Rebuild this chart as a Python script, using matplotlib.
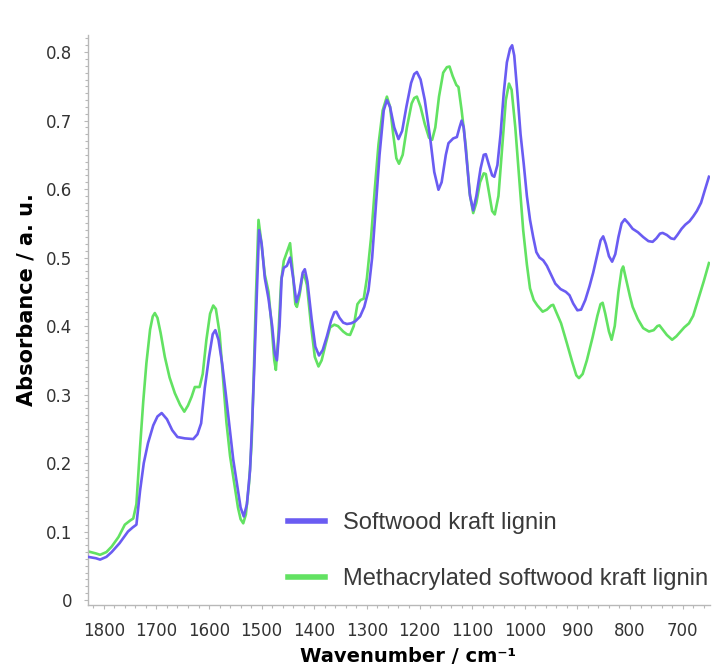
import matplotlib
matplotlib.use("Agg")
import matplotlib.pyplot as plt
from matplotlib.ticker import MultipleLocator

# softwood kraft lignin
wn_soft = [1830, 1815, 1807, 1795, 1785, 1770, 1754, 1745, 1738, 1731, 1724, 1716, 1706, 1698, 1690,
           1680, 1670, 1660, 1646, 1630, 1622, 1615, 1608, 1600, 1593, 1588, 1582, 1575, 1568, 1560,
           1554, 1546, 1540, 1534, 1528, 1522, 1518, 1514, 1510, 1505, 1500, 1494, 1487, 1480, 1475,
           1471, 1466, 1462, 1458, 1452, 1446, 1440, 1434, 1428, 1422, 1418, 1413, 1405, 1398, 1391,
           1384, 1376, 1368, 1362, 1358, 1352, 1345, 1338, 1330, 1322, 1313, 1305, 1297, 1290, 1283,
           1276, 1268, 1262, 1256, 1248, 1240, 1233, 1225, 1216, 1210, 1205, 1198, 1190, 1180, 1172,
           1164, 1158, 1150, 1145, 1136, 1129, 1124, 1120, 1116, 1110, 1104, 1098, 1092, 1084, 1078,
           1074, 1068, 1062, 1058, 1052, 1046, 1040, 1034, 1028, 1024, 1020, 1014, 1008, 1002, 996,
           990, 984, 978, 972, 965, 958, 950, 942, 932, 922, 915, 908, 900, 893, 885,
           877, 870, 862, 856, 851, 846, 840, 834, 828, 822, 816, 810, 803, 795, 785,
           775, 765, 757, 750, 743, 738, 730, 722, 716, 710, 702, 695, 687, 680, 673,
           665, 658, 650]
abs_soft = [0.063, 0.061, 0.059, 0.063, 0.070, 0.083, 0.100, 0.106, 0.110, 0.160, 0.200, 0.229, 0.255, 0.268, 0.273,
            0.264, 0.248, 0.238, 0.236, 0.235, 0.242, 0.258, 0.310, 0.355, 0.388, 0.394, 0.380, 0.345, 0.300, 0.245,
            0.205, 0.165, 0.135, 0.122, 0.140, 0.190, 0.260, 0.340, 0.430, 0.540, 0.520, 0.470, 0.440, 0.400, 0.360,
            0.350, 0.400, 0.470, 0.485, 0.488, 0.500, 0.470, 0.435, 0.450, 0.478, 0.483, 0.465, 0.410, 0.370, 0.357,
            0.365, 0.385, 0.408, 0.420, 0.421, 0.412, 0.405, 0.403, 0.404, 0.407, 0.414, 0.428, 0.452, 0.500, 0.575,
            0.650, 0.715, 0.730, 0.720, 0.690, 0.673, 0.685, 0.720, 0.755, 0.768, 0.771, 0.760, 0.730, 0.676, 0.625,
            0.599, 0.610, 0.650, 0.667, 0.674, 0.676, 0.690, 0.700, 0.690, 0.640, 0.590, 0.569, 0.590, 0.630, 0.650,
            0.651, 0.635, 0.620, 0.618, 0.635, 0.680, 0.740, 0.785, 0.805, 0.810, 0.795, 0.740, 0.680, 0.637, 0.590,
            0.555, 0.530, 0.508, 0.500, 0.496, 0.488, 0.475, 0.462, 0.454, 0.450, 0.445, 0.433, 0.423, 0.424, 0.438,
            0.458, 0.478, 0.505, 0.525, 0.531, 0.520, 0.502, 0.494, 0.505, 0.530, 0.550, 0.556, 0.550, 0.542, 0.537,
            0.530, 0.524, 0.523, 0.528, 0.535, 0.536, 0.533, 0.528, 0.527, 0.533, 0.542, 0.548, 0.553, 0.560, 0.568,
            0.580, 0.598, 0.618]

# methacrylated softwood kraft lignin
wn_meth = [1830, 1815, 1807, 1795, 1785, 1772, 1760, 1750, 1744, 1738, 1731, 1725, 1719, 1712, 1707,
           1703, 1698, 1692, 1684, 1675, 1665, 1655, 1647, 1640, 1633, 1627, 1618, 1612, 1605, 1598,
           1592, 1587, 1580, 1574, 1567, 1560, 1552, 1545, 1540, 1535, 1530, 1524, 1519, 1515, 1511,
           1506, 1501, 1494, 1487, 1481, 1476, 1473, 1468, 1463, 1458, 1452, 1446, 1441, 1436, 1433,
           1428, 1423, 1419, 1414, 1406, 1399, 1392, 1386, 1378, 1370, 1362, 1355, 1345, 1338, 1332,
           1325, 1318, 1312, 1306, 1300, 1292, 1285, 1278, 1270, 1262, 1256, 1250, 1244, 1239, 1232,
           1224, 1215, 1210, 1205, 1198, 1190, 1182, 1176, 1170, 1163, 1155, 1148, 1143, 1137, 1130,
           1126, 1120, 1112, 1105, 1098, 1092, 1085, 1078, 1074, 1068, 1062, 1057, 1050, 1043, 1036,
           1030, 1025, 1018, 1010, 1003, 996, 990, 983, 976, 966, 958, 950, 946, 940, 931,
           920, 910, 902, 897, 890, 882, 871, 862, 856, 852, 847, 840, 835, 829, 822,
           816, 813, 808, 800, 795, 785, 775, 764, 755, 748, 744, 738, 730, 720, 712,
           705, 697, 688, 680, 674, 669, 660, 650]
abs_meth = [0.071, 0.068, 0.066, 0.070, 0.078, 0.092, 0.110, 0.116, 0.119, 0.140, 0.224, 0.290, 0.346, 0.395, 0.414,
            0.419, 0.412, 0.390, 0.355, 0.325, 0.302, 0.285, 0.275, 0.284, 0.297, 0.311, 0.311, 0.330, 0.380, 0.418,
            0.430, 0.425, 0.390, 0.330, 0.260, 0.210, 0.170, 0.135, 0.118, 0.112, 0.125, 0.170, 0.230, 0.330, 0.440,
            0.555, 0.525, 0.475, 0.450, 0.400, 0.350, 0.336, 0.390, 0.465, 0.495, 0.508, 0.521, 0.480, 0.432, 0.428,
            0.445, 0.470, 0.475, 0.460, 0.400, 0.355, 0.341, 0.350, 0.375, 0.398, 0.402, 0.400, 0.392, 0.388, 0.387,
            0.400, 0.432, 0.438, 0.440, 0.470, 0.530, 0.600, 0.665, 0.715, 0.735, 0.720, 0.680, 0.645, 0.637, 0.650,
            0.690, 0.725, 0.733, 0.735, 0.720, 0.695, 0.675, 0.672, 0.690, 0.735, 0.770, 0.778, 0.779, 0.765, 0.752,
            0.749, 0.715, 0.662, 0.595, 0.565, 0.580, 0.610, 0.623, 0.622, 0.595, 0.568, 0.563, 0.590, 0.660, 0.730,
            0.754, 0.745, 0.690, 0.610, 0.540, 0.490, 0.455, 0.438, 0.430, 0.421, 0.424, 0.430, 0.431, 0.420, 0.404,
            0.375, 0.348, 0.328, 0.324, 0.330, 0.350, 0.384, 0.415, 0.432, 0.434, 0.418, 0.392, 0.380, 0.400, 0.450,
            0.482, 0.487, 0.470, 0.443, 0.428, 0.410, 0.397, 0.392, 0.394, 0.400, 0.401, 0.395, 0.387, 0.380, 0.385,
            0.391, 0.398, 0.404, 0.415, 0.430, 0.443, 0.465, 0.492]

x_ticks = [1800, 1700, 1600, 1500, 1400, 1300, 1200, 1100, 1000, 900, 800, 700]
y_ticks = [0, 0.1, 0.2, 0.3, 0.4, 0.5, 0.6, 0.7, 0.8]
y_tick_labels = ["0", "0.1", "0.2", "0.3", "0.4", "0.5", "0.6", "0.7", "0.8"]

blue = "#6a5cf2"
green = "#62e262"
axis_grey = "#b8b8b8"

fig = plt.figure(figsize=(7.2, 6.7), dpi=100)
ax = fig.add_axes([88 / 720, 65 / 670, 622 / 720, 570 / 670])

ax.plot(wn_soft, abs_soft, color=blue, lw=1.9, label="Softwood kraft lignin", zorder=3)
ax.plot(wn_meth, abs_meth, color=green, lw=1.9, label="Methacrylated softwood kraft lignin", zorder=2)

ax.set_xlim(1830, 648)
ax.set_ylim(-0.0073, 0.825)

ax.set_xticks(x_ticks)
ax.set_yticks(y_ticks)
ax.set_yticklabels(y_tick_labels)
ax.xaxis.set_minor_locator(MultipleLocator(20))
ax.yaxis.set_minor_locator(MultipleLocator(0.01))

for s in ["top", "right"]:
    ax.spines[s].set_visible(False)
for s in ["left", "bottom"]:
    ax.spines[s].set_color(axis_grey)
    ax.spines[s].set_linewidth(1.0)

ax.tick_params(which="both", direction="out", color=axis_grey, width=0.8)
ax.tick_params(which="major", length=3, labelsize=12, labelcolor="#333333")
ax.tick_params(which="minor", length=2)
ax.tick_params(axis="x", which="major", pad=9)
ax.tick_params(axis="y", which="major", pad=8.5)

ax.set_xlabel("Wavenumber / cm\u207b\u00b9", fontsize=14, fontweight="bold")
ax.set_ylabel("Absorbance / a. u.", fontsize=15, fontweight="bold")
ax.xaxis.set_label_coords(0.514, -0.074)
ax.yaxis.set_label_coords(-0.083, 0.535)

leg = ax.legend(loc="center left", bbox_to_anchor=(288 / 720, 1 - 551 / 670),
                bbox_transform=fig.transFigure, frameon=False, borderpad=0, borderaxespad=0,
                handlelength=1.57, handletextpad=0.76, labelspacing=1.42,
                prop={"family": "Liberation Sans", "size": 17})
for line in leg.get_lines():
    line.set_linewidth(4)
for t in leg.get_texts():
    t.set_color("#3a3a3a")

fig.savefig("out.png", dpi=100)
